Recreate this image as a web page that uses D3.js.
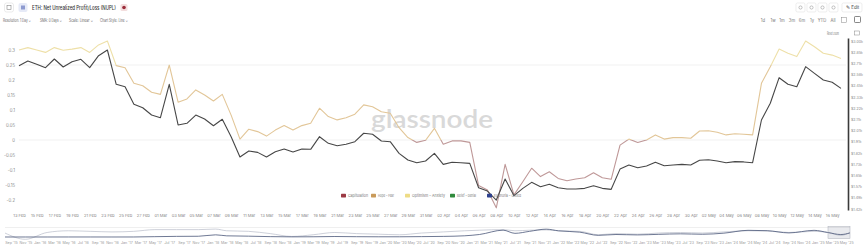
<!DOCTYPE html>
<html><head><meta charset="utf-8">
<script src="https://cdn.jsdelivr.net/npm/d3@7"></script>
<style>
html,body{margin:0;padding:0;background:#fff;}
svg{display:block;font-family:Inter,"Open Sans",sans-serif;}
</style></head><body>
<svg id="c" width="865" height="247"></svg>
<script>
// ---------------- data ----------------
const startDate = "2025-02-13";
const nupl = [
 0.300,0.308,0.300,0.292,0.308,0.299,0.303,0.308,0.292,0.317,
 0.330,0.248,0.241,0.189,0.181,0.159,0.152,0.250,0.126,0.137,
 0.167,0.150,0.130,0.152,0.083,0.003,0.036,0.028,0.013,0.033,
 0.048,0.033,0.048,0.056,0.106,0.078,0.067,0.074,0.086,0.117,
 0.111,0.094,0.089,0.041,0.008,-0.008,-0.001,0.039,-0.014,-0.003,
 -0.003,-0.008,-0.152,-0.167,-0.226,-0.081,-0.183,-0.139,-0.094,-0.122,
 -0.106,-0.128,-0.136,-0.130,-0.126,-0.109,-0.126,-0.131,-0.017,0.003,
 -0.008,0.000,0.017,0.003,0.008,0.008,0.006,0.030,0.031,0.026,
 0.017,0.021,0.019,0.017,0.189,0.244,0.303,0.289,0.278,0.330,
 0.311,0.289,0.283,0.272];
const price = [
 2684,2740,2700,2660,2765,2668,2732,2761,2660,2806,
 2878,2470,2444,2260,2225,2154,2129,2470,2061,2076,
 2154,2116,2054,2114,1956,1787,1835,1824,1787,1829,
 1851,1827,1851,1849,1956,1899,1879,1891,1913,1986,
 1977,1919,1913,1816,1763,1742,1755,1816,1729,1745,
 1742,1737,1558,1535,1475,1620,1504,1554,1596,1565,
 1582,1558,1549,1549,1554,1572,1554,1547,1693,1724,
 1703,1717,1745,1719,1724,1729,1724,1761,1765,1755,
 1742,1750,1748,1742,2107,2270,2544,2470,2444,2672,
 2594,2518,2492,2426];
const yTicks = [0.3,0.25,0.2,0.15,0.1,0.05,0,-0.05,-0.1,-0.15,-0.2];
const yTickLabels = ["0.3","0.25","0.2","0.15","0.1","0.05","0","-0.05","-0.1","-0.15","-0.2"];
const priceTicks = [2996,2850,2711,2579,2454,2334,2221,2112,2010,1912,1819,1730,1646,1566,1490,1417];
const priceTickLabels = ["$3.00k","$2.85k","$2.71k","$2.58k","$2.45k","$2.33k","$2.22k","$2.11k","$2.01k","$1.91k","$1.82k","$1.73k","$1.65k","$1.57k","$1.49k","$1.42k"];
const xTickLabels = ["13 Feb","15 Feb","17 Feb","19 Feb","21 Feb","23 Feb","25 Feb","27 Feb","01 Mar","03 Mar","05 Mar","07 Mar","09 Mar","11 Mar","13 Mar","15 Mar","17 Mar","19 Mar","21 Mar","23 Mar","25 Mar","27 Mar","29 Mar","31 Mar","02 Apr","04 Apr","06 Apr","08 Apr","10 Apr","12 Apr","14 Apr","16 Apr","18 Apr","20 Apr","22 Apr","24 Apr","26 Apr","28 Apr","30 Apr","02 May","04 May","06 May","08 May","10 May","12 May","14 May","16 May"];
const zoneNames = ["Capitulation","Hope – Fear","Optimism – Anxiety","Belief – Denial","Euphoria – Greed"];
const zoneBounds = [-10,0,0.25,0.5,0.75,10];
const zoneLineColors = ["#bf9898","#e2c698","#eee0a8","#8cc493","#8c9ad0"];
const zoneSwatchColors = ["#9c3a44","#c99a5a","#eedc86","#2f8a3c","#2f428f"];
// navigator (full history, coarse)
const navDates = ["2015-08-07","2015-11-01","2016-02-01","2016-05-01","2016-08-01","2016-11-01","2017-02-01","2017-05-01","2017-08-01","2017-11-01","2018-01-13","2018-03-01","2018-06-01","2018-09-01","2018-12-01","2019-03-01","2019-06-01","2019-09-01","2019-12-01","2020-03-01","2020-06-01","2020-09-01","2020-12-01","2021-02-01","2021-05-12","2021-07-01","2021-09-01","2021-11-10","2022-01-01","2022-04-01","2022-06-18","2022-09-01","2022-12-01","2023-03-01","2023-06-01","2023-09-01","2023-12-01","2024-03-12","2024-06-01","2024-09-01","2024-12-16","2025-02-13","2025-04-08","2025-05-17"];
const navPrice = [2,1,5,12,11,9,12,200,380,450,1300,700,500,220,90,140,300,180,130,130,230,360,730,1500,4100,2200,3400,4700,3700,2900,1000,1500,1250,1600,1900,1650,2300,4000,3800,2450,4000,2680,1475,2450];
const navNupl = [0.2,-0.9,0.3,0.6,0.5,0.4,0.5,0.8,0.8,0.8,0.9,0.6,0.5,0.1,-0.4,-0.1,0.3,0.1,0.0,-0.1,0.2,0.4,0.6,0.7,0.8,0.6,0.7,0.75,0.6,0.5,-0.1,0.1,0.0,0.2,0.3,0.2,0.4,0.6,0.55,0.3,0.5,0.3,-0.2,0.27];

// ---------------- drawing ----------------
const svg = d3.select("#c");
const parse = d3.timeParse("%Y-%m-%d");
const start = parse(startDate);
const dates = nupl.map((_, i) => d3.timeDay.offset(start, i));
const L = 19, R = 841, T = 38, B = 210;

const x = d3.scaleTime().domain([dates[0], dates[dates.length-1]]).range([L, R]);
const y = d3.scaleLinear().domain([-0.2333, 0.34]).range([B, T]);
const yP = d3.scaleLog().domain([1411, 3036]).range([B, T]);

// header
const hdr = svg.append("g");
hdr.append("rect").attr("x",4.5).attr("y",3).attr("width",9).attr("height",9).attr("rx",2).attr("fill","#fff").attr("stroke","#ddd").attr("stroke-width",0.6);
hdr.append("rect").attr("x",7).attr("y",5.5).attr("width",4).attr("height",4).attr("fill","none").attr("stroke","#888").attr("stroke-width",0.6);
hdr.append("rect").attr("x",18.5).attr("y",3).attr("width",9).attr("height",9).attr("rx",2).attr("fill","#e6eaf7");
hdr.append("rect").attr("x",21).attr("y",5.5).attr("width",4).attr("height",4).attr("fill","#8d9ad0");
hdr.append("text").attr("x",32).attr("y",9.6).attr("font-size",5.6).attr("fill","#333").attr("font-weight",500)
  .attr("textLength",84).attr("lengthAdjust","spacingAndGlyphs").text("ETH: Net Unrealized Profit/Loss (NUPL)");
hdr.append("rect").attr("x",120.5).attr("y",4).attr("width",7).attr("height",7).attr("rx",1.5).attr("fill","#f3dede");
hdr.append("circle").attr("cx",124).attr("cy",7.5).attr("r",1.8).attr("fill","#9b2c3a");

const dd = [["Resolution: 1 Day ⌄",3,28],["SMA: 0 Days ⌄",40,22],["Scale: Linear ⌄",69,24],["Chart Style: Line ⌄",100,28]];
dd.forEach(d => hdr.append("text").attr("x",d[1]).attr("y",21.5).attr("font-size",4.3).attr("fill","#666")
  .attr("textLength",d[2]).attr("lengthAdjust","spacingAndGlyphs").text(d[0]));

// right header
[796,807,818,829].forEach(bx => {
  hdr.append("rect").attr("x",bx).attr("y",3).attr("width",9).attr("height",9).attr("rx",1.5).attr("fill","#fff").attr("stroke","#e3e3e3").attr("stroke-width",0.6);
  hdr.append("circle").attr("cx",bx+4.5).attr("cy",7.5).attr("r",1.6).attr("fill","none").attr("stroke","#888").attr("stroke-width",0.5);
});
hdr.append("rect").attr("x",842).attr("y",3).attr("width",20).attr("height",9).attr("rx",1.5).attr("fill","#fff").attr("stroke","#e3e3e3").attr("stroke-width",0.6);
hdr.append("text").attr("x",846).attr("y",9.3).attr("font-size",4.5).attr("fill","#444").text("✎ Edit");
const tf = [["1d",763],["1w",773],["1m",782],["3m",792],["6m",802],["1y",812],["YTD",822],["All",833]];
tf.forEach(t => hdr.append("text").attr("x",t[1]).attr("y",21.5).attr("font-size",4.2).attr("fill","#777").attr("text-anchor","middle").text(t[0]));
hdr.append("rect").attr("x",841.5).attr("y",17.5).attr("width",5).attr("height",5).attr("fill","none").attr("stroke","#888").attr("stroke-width",0.5);
hdr.append("rect").attr("x",854.5).attr("y",16.5).attr("width",6).attr("height",6).attr("rx",0.8).attr("fill","none").attr("stroke","#555").attr("stroke-width",0.7);
hdr.append("text").attr("x",827).attr("y",34.5).attr("font-size",4.2).attr("fill","#777").attr("textLength",12).attr("lengthAdjust","spacingAndGlyphs").text("Reset zoom");
hdr.append("rect").attr("x",854.5).attr("y",31).attr("width",5).attr("height",4).attr("fill","none").attr("stroke","#888").attr("stroke-width",0.5);

// gridlines at zone boundaries
[0.25, 0].forEach(v => svg.append("line").attr("x1",L).attr("x2",846).attr("y1",y(v)).attr("y2",y(v))
  .attr("stroke","#eeeeee").attr("stroke-width",0.8));

// watermark
svg.append("text").attr("x",432).attr("y",128).attr("text-anchor","middle").attr("font-size",25)
  .attr("font-family","Lato, 'Open Sans', sans-serif").attr("font-weight",600).attr("fill","#d9d9d9")
  .attr("textLength",122).attr("lengthAdjust","spacingAndGlyphs").text("glassnode");

// left axis
const gl = svg.append("g").attr("transform","translate(16,0)")
  .call(d3.axisLeft(y).tickValues(yTicks).tickFormat((d,i)=>yTickLabels[i]).tickSize(0).tickPadding(1));
gl.select(".domain").remove();
gl.selectAll("text").attr("font-size",4.3).attr("fill","#888").attr("font-family","Inter,sans-serif");

// right axis
const gr = svg.append("g").attr("transform","translate(848,0)")
  .call(d3.axisRight(yP).tickValues(priceTicks).tickFormat((d,i)=>priceTickLabels[i]).tickSize(0).tickPadding(3));
gr.select(".domain").attr("stroke","#3a3a3a").attr("stroke-width",1.6);
gr.selectAll("text").attr("font-size",3.6).attr("fill","#888").attr("font-family","Inter,sans-serif");

// bottom axis
const xTickDates = xTickLabels.map(s => d3.timeParse("%d %b %Y")(s + " 2025"));
const gb = svg.append("g").attr("transform",`translate(0,${B})`)
  .call(d3.axisBottom(x).tickValues(xTickDates).tickFormat((d,i)=>xTickLabels[i]).tickSize(0).tickPadding(4));
gb.select(".domain").remove();
gb.selectAll("text").attr("font-size",4.1).attr("fill","#888").attr("font-family","Inter,sans-serif");

// NUPL line coloured by zone (clip per band)
const defs = svg.append("defs");
const lineN = d3.line().x((d,i)=>x(dates[i])).y(d=>y(d));
zoneNames.forEach((z, i) => {
  const y1 = Math.max(T-10, y(zoneBounds[i+1])), y2 = Math.min(B+10, y(zoneBounds[i]));
  if (y2 <= y1) return;
  defs.append("clipPath").attr("id","zc"+i).append("rect").attr("x",0).attr("width",865).attr("y",y1).attr("height",y2-y1);
  svg.append("path").datum(nupl).attr("d",lineN).attr("fill","none").attr("stroke",zoneLineColors[i])
    .attr("stroke-width",1.1).attr("stroke-linejoin","round").attr("clip-path",`url(#zc${i})`);
});

// price line
const lineP = d3.line().x((d,i)=>x(dates[i])).y(d=>yP(d));
svg.append("path").datum(price).attr("d",lineP).attr("fill","none").attr("stroke","#474747")
  .attr("stroke-width",1.1).attr("stroke-linejoin","round");

// legend
const lgX = [341,371,405,450,487];
const lgW = [20,16,33,19,27];
zoneNames.forEach((z,i) => {
  svg.append("rect").attr("x",lgX[i]).attr("y",193.8).attr("width",5).attr("height",3.6).attr("rx",0.6).attr("fill",zoneSwatchColors[i]);
  svg.append("text").attr("x",lgX[i]+7).attr("y",197.2).attr("font-size",4).attr("fill","#777")
    .attr("textLength",lgW[i]).attr("lengthAdjust","spacingAndGlyphs").text(z);
});

// navigator
const nd = navDates.map(parse);
const xn = d3.scaleTime().domain([nd[0], dates[dates.length-1]]).range([5, 850]);
const ynP = d3.scaleLinear().domain([0, 4800]).range([237, 229]);
const ynN = d3.scaleLinear().domain([-1.2, 1]).range([241, 228.5]);
svg.append("line").attr("x1",5).attr("x2",850).attr("y1",227.5).attr("y2",227.5).attr("stroke","#e4e4e4").attr("stroke-width",0.6);
svg.append("path").datum(navNupl).attr("d",d3.line().curve(d3.curveMonotoneX).x((d,i)=>xn(nd[i])).y(d=>ynN(d)))
  .attr("fill","none").attr("stroke","#b8bcc8").attr("stroke-width",0.7);
svg.append("path").datum(navPrice).attr("d",d3.line().curve(d3.curveMonotoneX).x((d,i)=>xn(nd[i])).y(d=>ynP(d)))
  .attr("fill","none").attr("stroke","#4a5778").attr("stroke-width",0.8);
svg.append("rect").attr("x",xn(dates[0])).attr("y",226.5).attr("width",xn(dates[dates.length-1])-xn(dates[0])).attr("height",12)
  .attr("fill","rgba(110,115,140,0.15)").attr("stroke","#a9adb8").attr("stroke-width",0.5);
const gn = svg.append("g").attr("transform","translate(0,239)")
  .call(d3.axisBottom(xn).ticks(d3.timeMonth.every(2)).tickFormat(d3.timeFormat("%b '%y")).tickSize(0).tickPadding(2.5));
gn.select(".domain").remove();
gn.selectAll("text").attr("font-size",3.6).attr("fill","#999").attr("font-family","Inter,sans-serif");
</script>
</body></html>
